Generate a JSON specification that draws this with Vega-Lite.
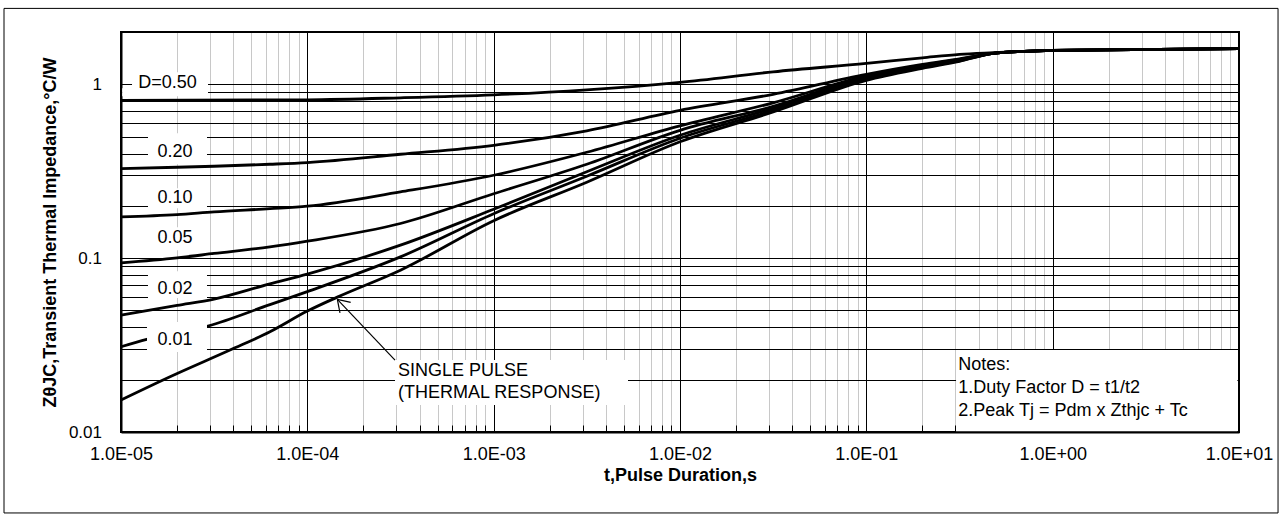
{
  "$schema": "https://vega.github.io/schema/vega-lite/v6.json",
  "autosize": {"type": "none"},
  "padding": {"left": 121, "top": 32, "right": 43, "bottom": 89},
  "width": 1118,
  "height": 400,
  "background": "white",
  "config": {
    "font": "Liberation Sans",
    "view": {"stroke": "#000000", "strokeWidth": 2}
  },
  "datasets": {
    "curves": [
      {"D": "0.50", "t": 0.00001, "z": 0.809},
      {"D": "0.50", "t": 0.0001, "z": 0.8145},
      {"D": "0.50", "t": 0.000316, "z": 0.8364},
      {"D": "0.50", "t": 0.001, "z": 0.870},
      {"D": "0.50", "t": 0.00316, "z": 0.930},
      {"D": "0.50", "t": 0.01, "z": 1.027},
      {"D": "0.50", "t": 0.0316, "z": 1.180},
      {"D": "0.50", "t": 0.1, "z": 1.320},
      {"D": "0.50", "t": 0.2, "z": 1.420},
      {"D": "0.50", "t": 0.316, "z": 1.487},
      {"D": "0.50", "t": 0.48, "z": 1.521},
      {"D": "0.50", "t": 0.7, "z": 1.548},
      {"D": "0.50", "t": 1, "z": 1.568},
      {"D": "0.50", "t": 10, "z": 1.604},

      {"D": "0.20", "t": 0.00001, "z": 0.3278},
      {"D": "0.20", "t": 0.00002, "z": 0.3334},
      {"D": "0.20", "t": 0.0000316, "z": 0.3379},
      {"D": "0.20", "t": 0.000063, "z": 0.3469},
      {"D": "0.20", "t": 0.0001, "z": 0.3548},
      {"D": "0.20", "t": 0.000316, "z": 0.396},
      {"D": "0.20", "t": 0.001, "z": 0.4461},
      {"D": "0.20", "t": 0.00316, "z": 0.5405},
      {"D": "0.20", "t": 0.01, "z": 0.709},
      {"D": "0.20", "t": 0.0316, "z": 0.8759},
      {"D": "0.20", "t": 0.1, "z": 1.1416},
      {"D": "0.20", "t": 0.2, "z": 1.3026},
      {"D": "0.20", "t": 0.316, "z": 1.4016},
      {"D": "0.20", "t": 0.48, "z": 1.5076},
      {"D": "0.20", "t": 0.7, "z": 1.548},
      {"D": "0.20", "t": 1, "z": 1.568},
      {"D": "0.20", "t": 10, "z": 1.604},

      {"D": "0.10", "t": 0.00001, "z": 0.1727},
      {"D": "0.10", "t": 0.00002, "z": 0.1778},
      {"D": "0.10", "t": 0.0000316, "z": 0.1846},
      {"D": "0.10", "t": 0.000063, "z": 0.1925},
      {"D": "0.10", "t": 0.0001, "z": 0.199},
      {"D": "0.10", "t": 0.000316, "z": 0.2404},
      {"D": "0.10", "t": 0.001, "z": 0.2999},
      {"D": "0.10", "t": 0.00316, "z": 0.4066},
      {"D": "0.10", "t": 0.01, "z": 0.5774},
      {"D": "0.10", "t": 0.0316, "z": 0.783},
      {"D": "0.10", "t": 0.1, "z": 1.1193},
      {"D": "0.10", "t": 0.2, "z": 1.2856},
      {"D": "0.10", "t": 0.316, "z": 1.3923},
      {"D": "0.10", "t": 0.48, "z": 1.5076},
      {"D": "0.10", "t": 0.7, "z": 1.548},
      {"D": "0.10", "t": 1, "z": 1.568},
      {"D": "0.10", "t": 10, "z": 1.604},

      {"D": "0.05", "t": 0.00001, "z": 0.094},
      {"D": "0.05", "t": 0.00002, "z": 0.1004},
      {"D": "0.05", "t": 0.0000316, "z": 0.1064},
      {"D": "0.05", "t": 0.000063, "z": 0.1161},
      {"D": "0.05", "t": 0.0001, "z": 0.1252},
      {"D": "0.05", "t": 0.000316, "z": 0.1583},
      {"D": "0.05", "t": 0.001, "z": 0.2348},
      {"D": "0.05", "t": 0.00316, "z": 0.3469},
      {"D": "0.05", "t": 0.01, "z": 0.544},
      {"D": "0.05", "t": 0.0316, "z": 0.7472},
      {"D": "0.05", "t": 0.1, "z": 1.1045},
      {"D": "0.05", "t": 0.2, "z": 1.2686},
      {"D": "0.05", "t": 0.316, "z": 1.383},
      {"D": "0.05", "t": 0.48, "z": 1.5076},
      {"D": "0.05", "t": 0.7, "z": 1.548},
      {"D": "0.05", "t": 1, "z": 1.568},
      {"D": "0.05", "t": 10, "z": 1.604},

      {"D": "0.02", "t": 0.00001, "z": 0.04704},
      {"D": "0.02", "t": 0.00002, "z": 0.05348},
      {"D": "0.02", "t": 0.0000316, "z": 0.05813},
      {"D": "0.02", "t": 0.000063, "z": 0.07115},
      {"D": "0.02", "t": 0.0001, "z": 0.08101},
      {"D": "0.02", "t": 0.000316, "z": 0.1188},
      {"D": "0.02", "t": 0.001, "z": 0.1912},
      {"D": "0.02", "t": 0.00316, "z": 0.3142},
      {"D": "0.02", "t": 0.01, "z": 0.5093},
      {"D": "0.02", "t": 0.0316, "z": 0.7277},
      {"D": "0.02", "t": 0.1, "z": 1.0899},
      {"D": "0.02", "t": 0.2, "z": 1.2603},
      {"D": "0.02", "t": 0.316, "z": 1.3738},
      {"D": "0.02", "t": 0.48, "z": 1.5076},
      {"D": "0.02", "t": 0.7, "z": 1.548},
      {"D": "0.02", "t": 1, "z": 1.568},
      {"D": "0.02", "t": 10, "z": 1.604},

      {"D": "0.01", "t": 0.00001, "z": 0.03092},
      {"D": "0.01", "t": 0.00001374, "z": 0.0341},
      {"D": "0.01", "t": 0.0000293, "z": 0.04067},
      {"D": "0.01", "t": 0.000063, "z": 0.05405},
      {"D": "0.01", "t": 0.0001, "z": 0.06421},
      {"D": "0.01", "t": 0.000316, "z": 0.1017},
      {"D": "0.01", "t": 0.001, "z": 0.1802},
      {"D": "0.01", "t": 0.00316, "z": 0.296},
      {"D": "0.01", "t": 0.01, "z": 0.4895},
      {"D": "0.01", "t": 0.0316, "z": 0.709},
      {"D": "0.01", "t": 0.1, "z": 1.0756},
      {"D": "0.01", "t": 0.2, "z": 1.2518},
      {"D": "0.01", "t": 0.316, "z": 1.3649},
      {"D": "0.01", "t": 0.48, "z": 1.5076},
      {"D": "0.01", "t": 0.7, "z": 1.548},
      {"D": "0.01", "t": 1, "z": 1.568},
      {"D": "0.01", "t": 10, "z": 1.604},

      {"D": "single", "t": 0.00001, "z": 0.01527},
      {"D": "single", "t": 0.00001833, "z": 0.02078},
      {"D": "single", "t": 0.00003846, "z": 0.0296},
      {"D": "single", "t": 0.000063, "z": 0.03771},
      {"D": "single", "t": 0.0001, "z": 0.04959},
      {"D": "single", "t": 0.0001449, "z": 0.0597},
      {"D": "single", "t": 0.000316, "z": 0.08531},
      {"D": "single", "t": 0.001, "z": 0.1643},
      {"D": "single", "t": 0.00316, "z": 0.2734},
      {"D": "single", "t": 0.01, "z": 0.4673},
      {"D": "single", "t": 0.0316, "z": 0.6932},
      {"D": "single", "t": 0.1, "z": 1.0544},
      {"D": "single", "t": 0.2, "z": 1.2359},
      {"D": "single", "t": 0.316, "z": 1.3561},
      {"D": "single", "t": 0.48, "z": 1.5076},
      {"D": "single", "t": 0.7, "z": 1.548},
      {"D": "single", "t": 1, "z": 1.568},
      {"D": "single", "t": 10, "z": 1.604}
    ],
    "boxes": [
      {"t1": 0.00001015, "t2": 0.0000293, "z1": 0.853, "z2": 0.9484},
      {"t1": 0.00001146, "t2": 0.0000293, "z1": 0.9484, "z2": 1.172},
      {"t1": 0.00001396, "t2": 0.00002894, "z1": 0.3468, "z2": 0.5229},
      {"t1": 0.00001396, "t2": 0.00002894, "z1": 0.1939, "z2": 0.2525},
      {"t1": 0.00001396, "t2": 0.00002894, "z1": 0.1112, "z2": 0.1508},
      {"t1": 0.00001396, "t2": 0.00002894, "z1": 0.05891, "z2": 0.08418},
      {"t1": 0.00001379, "t2": 0.00002894, "z1": 0.02883, "z2": 0.04287},
      {"t1": 0.0002955, "t2": 0.00526, "z1": 0.01429, "z2": 0.02593},
      {"t1": 0.303, "t2": 9.8, "z1": 0.0101, "z2": 0.0296}
    ],
    "arrow": [
      {"t1": 0.0002955, "z1": 0.02593, "t2": 0.0001449, "z2": 0.0579},
      {"t1": 0.0001709, "z1": 0.05563, "t2": 0.0001449, "z2": 0.0579},
      {"t1": 0.0001497, "z1": 0.04849, "t2": 0.0001449, "z2": 0.0579}
    ],
    "dlabels": [
      {"t": 0.00001777, "z": 1.013, "text": "D=0.50"},
      {"t": 0.0000195, "z": 0.4066, "text": "0.20"},
      {"t": 0.0000195, "z": 0.2212, "text": "0.10"},
      {"t": 0.0000195, "z": 0.1302, "text": "0.05"},
      {"t": 0.0000195, "z": 0.06635, "text": "0.02"},
      {"t": 0.0000195, "z": 0.03379, "text": "0.01"}
    ],
    "notes": [
      {"t": 0.0003067, "z": 0.02251, "text": "SINGLE PULSE"},
      {"t": 0.0003067, "z": 0.01682, "text": "(THERMAL RESPONSE)"},
      {"t": 0.3117, "z": 0.02417, "text": "Notes:"},
      {"t": 0.3117, "z": 0.0179, "text": "1.Duty Factor D = t1/t2"},
      {"t": 0.3117, "z": 0.01326, "text": "2.Peak Tj = Pdm x Zthjc + Tc"}
    ]
  },
  "layer": [
    {
      "data": {"name": "curves"},
      "mark": {"type": "line", "color": "#000000", "strokeWidth": 2.8, "interpolate": "monotone"},
      "encoding": {
        "x": {
          "field": "t", "type": "quantitative",
          "scale": {"type": "log", "domain": [0.00001, 10], "nice": false},
          "axis": {
            "values": [0.00001,0.00002,0.00003,0.00004,0.00005,0.00006,0.00007,0.00008,0.00009,
                       0.0001,0.0002,0.0003,0.0004,0.0005,0.0006,0.0007,0.0008,0.0009,
                       0.001,0.002,0.003,0.004,0.005,0.006,0.007,0.008,0.009,
                       0.01,0.02,0.03,0.04,0.05,0.06,0.07,0.08,0.09,
                       0.1,0.2,0.3,0.4,0.5,0.6,0.7,0.8,0.9,
                       1,2,3,4,5,6,7,8,9,10],
            "grid": true,
            "gridColor": {"condition": {"test": "abs(log(datum.value)/LN10 - round(log(datum.value)/LN10)) < 0.001", "value": "#000000"}, "value": "#c8c8c8"},
            "gridWidth": 1,
            "labelExpr": "abs(log(datum.value)/LN10 - round(log(datum.value)/LN10)) < 0.001 ? '1.0E' + (round(log(datum.value)/LN10) < 0 ? '-' : '+') + '0' + abs(round(log(datum.value)/LN10)) : ''",
            "labelFontSize": 18,
            "labelColor": "#000000",
            "labelOverlap": false,
            "labelFlush": false,
            "labelPadding": 20,
            "tickSize": -7,
            "tickColor": "#000000",
            "tickWidth": 1,
            "domainColor": "#000000",
            "domainWidth": 2,
            "title": "t,Pulse Duration,s",
            "titleFontSize": 18,
            "titleFontWeight": "bold",
            "titleColor": "#000000",
            "titleBaseline": "alphabetic",
            "titleX": 559,
            "titleY": 48,
            "zindex": 0
          }
        },
        "y": {
          "field": "z", "type": "quantitative",
          "scale": {"type": "log", "domain": [0.01, 2], "nice": false},
          "axis": {
            "values": [0.01,0.02,0.03,0.04,0.05,0.06,0.07,0.08,0.09,
                       0.1,0.2,0.3,0.4,0.5,0.6,0.7,0.8,0.9,1,2],
            "grid": true,
            "gridColor": "#000000",
            "gridWidth": 1,
            "labelExpr": "abs(log(datum.value)/LN10 - round(log(datum.value)/LN10)) < 0.001 ? format(datum.value, '~g') : ''",
            "labelFontSize": 17,
            "labelColor": "#000000",
            "labelOverlap": false,
            "labelFlush": false,
            "labelPadding": 30.5,
            "tickSize": -11,
            "tickColor": "#000000",
            "tickOpacity": {"condition": {"test": "abs(log(datum.value)/LN10 - round(log(datum.value)/LN10)) < 0.001", "value": 1}, "value": 0},
            "domainColor": "#000000",
            "domainWidth": 2,
            "title": "ZθJC,Transient Thermal Impedance,°C/W",
            "titleFontSize": 18,
            "titleFontWeight": "bold",
            "titleColor": "#000000",
            "titleAngle": -90,
            "titleBaseline": "alphabetic",
            "titleAlign": "center",
            "titleX": -66,
            "titleY": 200,
            "zindex": 0
          }
        },
        "detail": {"field": "D"}
      }
    },
    {
      "data": {"name": "boxes"},
      "mark": {"type": "rect", "fill": "#ffffff", "stroke": null},
      "encoding": {
        "x": {"field": "t1", "type": "quantitative"},
        "x2": {"field": "t2"},
        "y": {"field": "z1", "type": "quantitative"},
        "y2": {"field": "z2"}
      }
    },
    {
      "data": {"values": [{}]},
      "mark": {"type": "rect", "fill": null, "stroke": "#000000", "strokeWidth": 1},
      "encoding": {
        "x": {"datum": 0.000002356, "type": "quantitative"},
        "x2": {"datum": 16.2},
        "y": {"datum": 0.003422, "type": "quantitative"},
        "y2": {"datum": 2.734}
      }
    },
    {
      "data": {"name": "arrow"},
      "mark": {"type": "rule", "color": "#000000", "strokeWidth": 1.2},
      "encoding": {
        "x": {"field": "t1", "type": "quantitative"},
        "x2": {"field": "t2"},
        "y": {"field": "z1", "type": "quantitative"},
        "y2": {"field": "z2"}
      }
    },
    {
      "data": {"name": "dlabels"},
      "mark": {"type": "text", "align": "center", "baseline": "middle", "fontSize": 18, "color": "#000000"},
      "encoding": {
        "x": {"field": "t", "type": "quantitative"},
        "y": {"field": "z", "type": "quantitative"},
        "text": {"field": "text"}
      }
    },
    {
      "data": {"name": "notes"},
      "mark": {"type": "text", "align": "left", "baseline": "middle", "fontSize": 18, "color": "#000000"},
      "encoding": {
        "x": {"field": "t", "type": "quantitative"},
        "y": {"field": "z", "type": "quantitative"},
        "text": {"field": "text"}
      }
    }
  ]
}
